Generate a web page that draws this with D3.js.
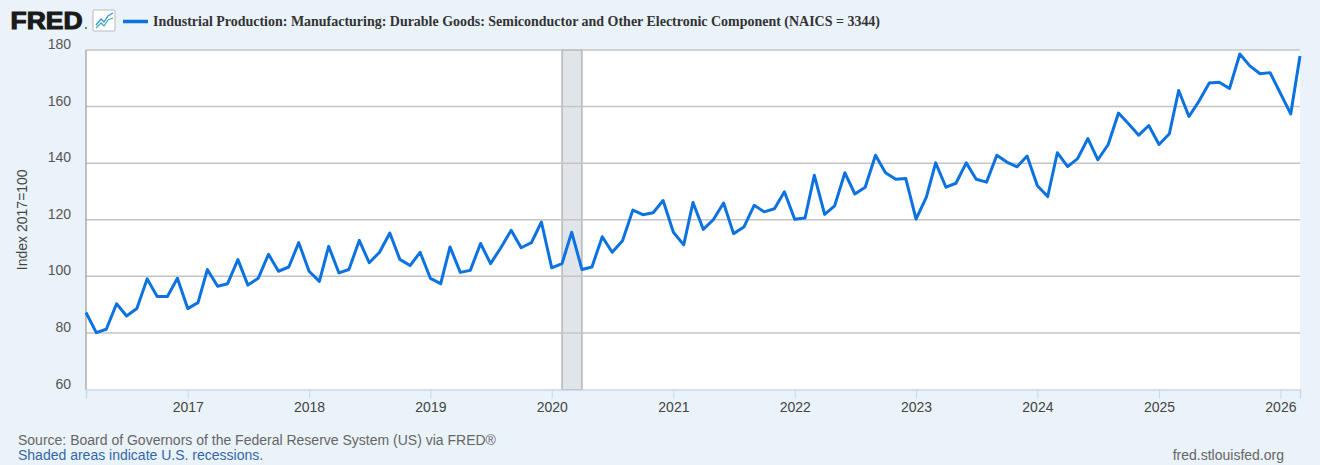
<!DOCTYPE html>
<html>
<head>
<meta charset="utf-8">
<script src="https://cdn.jsdelivr.net/npm/d3@7"></script>
<style>
  body { margin: 0; background: #eaf2fa; }
  svg { display: block; }
</style>
</head>
<body>
<div id="chart"></div>
<script>
// monthly values, Mar 2016 .. Mar 2026
var startMonth = "2016-03";
var values = [
  87.2, 80.1, 81.3, 90.3, 86.0, 88.6, 99.1, 92.9, 92.9, 99.3,
  88.6, 90.7, 102.4, 96.5, 97.4, 105.9, 96.9, 99.3, 107.8, 101.8, 103.3, 111.9,
  101.8, 98.2, 110.6, 101.2, 102.4, 112.7, 104.8, 108.5, 115.3, 106.0, 103.8, 108.5,
  99.3, 97.4, 110.4, 101.4, 102.1, 111.6, 104.5, 110.1, 116.3, 110.1, 111.9, 119.2,
  103.0, 104.5, 115.6, 102.4, 103.3, 114.0, 108.5, 112.6, 123.4, 121.8, 122.5, 126.8,
  115.6, 111.1, 126.1, 116.6, 120.0, 125.9, 115.1, 117.4, 125.1, 122.8, 123.9, 129.9,
  120.2, 120.6, 135.7, 121.9, 124.9, 136.6, 129.1, 131.5, 142.8, 136.6, 134.3, 134.6,
  120.2, 128.0, 140.1, 131.5, 132.9, 140.1, 134.3, 133.3, 142.8, 140.4, 138.7, 142.5,
  132.0, 128.2, 143.7, 138.8, 141.6, 148.7, 141.2, 146.6, 157.7, 153.9, 149.9, 153.3,
  146.6, 150.4, 165.7, 156.5, 161.9, 168.3, 168.6, 166.4, 178.6, 174.4, 171.6, 172.0,
  164.7, 157.4, 177.9
];
var yTicks = [60, 80, 100, 120, 140, 160, 180];
var xTickYears = [2017, 2018, 2019, 2020, 2021, 2022, 2023, 2024, 2025, 2026];
var recessions = [["2020-02-01", "2020-04-01"]];

var titleText = "Industrial Production: Manufacturing: Durable Goods: Semiconductor and Other Electronic Component (NAICS = 3344)";
var yLabel = "Index 2017=100";
var sourceText = "Source: Board of Governors of the Federal Reserve System (US) via FRED\u00ae";
var noteText = "Shaded areas indicate U.S. recessions.";
var siteText = "fred.stlouisfed.org";

var W = 1320, H = 465;
var margin = { top: 50, right: 20, bottom: 75.5, left: 86 };
var w = W - margin.left - margin.right,
    h = H - margin.top - margin.bottom;

var parseMonth = d3.timeParse("%Y-%m");
var t0 = parseMonth(startMonth);
var data = values.map(function(v, i) {
  return { date: d3.timeMonth.offset(t0, i), value: v };
});

var svg = d3.select("#chart").append("svg")
  .attr("width", W).attr("height", H);

svg.append("rect").attr("width", W).attr("height", H).attr("fill", "#eaf2fa");

var x = d3.scaleTime()
  .domain([data[0].date, data[data.length - 1].date])
  .range([margin.left, margin.left + w]);
var y = d3.scaleLinear()
  .domain([60, 180])
  .range([margin.top + h, margin.top]);

// plot background
svg.append("rect")
  .attr("x", margin.left).attr("y", margin.top)
  .attr("width", w).attr("height", h)
  .attr("fill", "#ffffff");

// recession bands
recessions.forEach(function(r) {
  var x0 = x(new Date(r[0])), x1 = x(new Date(r[1]));
  svg.append("rect")
    .attr("x", x0).attr("y", margin.top)
    .attr("width", x1 - x0).attr("height", h)
    .attr("fill", "#e1e5ea")
    .attr("stroke", "#9a9a9a").attr("stroke-width", 1);
});

// gridlines
svg.append("g")
  .selectAll("line")
  .data(yTicks.slice(1))
  .enter().append("line")
  .attr("x1", margin.left).attr("x2", margin.left + w)
  .attr("y1", function(d) { return y(d); })
  .attr("y2", function(d) { return y(d); })
  .attr("stroke", "#c4c4c4").attr("stroke-width", 1.5);

// y tick labels
svg.append("g")
  .selectAll("text")
  .data(yTicks)
  .enter().append("text")
  .attr("x", 71)
  .attr("y", function(d) { return y(d) - 1; })
  .attr("text-anchor", "end")
  .attr("font-family", "Liberation Sans, Arial, sans-serif")
  .attr("font-size", 14)
  .attr("fill", "#555")
  .text(function(d) { return d; });

// x axis
var xAxis = d3.axisBottom(x)
  .tickValues(xTickYears.map(function(yr) { return new Date(yr, 0, 1); }))
  .tickFormat(d3.timeFormat("%Y"))
  .tickSize(9)
  .tickPadding(4);
var gx = svg.append("g")
  .attr("transform", "translate(0," + (margin.top + h) + ")")
  .call(xAxis);
gx.select(".domain").attr("stroke", "#ccd6eb").attr("stroke-width", 1.5);
gx.selectAll(".tick line").attr("stroke", "#ccd6eb");
gx.selectAll(".tick text")
  .attr("font-family", "Liberation Sans, Arial, sans-serif")
  .attr("font-size", 14)
  .attr("fill", "#444");

// left axis line
svg.append("line")
  .attr("x1", margin.left).attr("x2", margin.left)
  .attr("y1", margin.top).attr("y2", margin.top + h)
  .attr("stroke", "#9a9a9a").attr("stroke-width", 1.2);

// series
var line = d3.line()
  .x(function(d) { return x(d.date); })
  .y(function(d) { return y(d.value); });
svg.append("path")
  .datum(data)
  .attr("fill", "none")
  .attr("stroke", "#0b72e0")
  .attr("stroke-width", 3)
  .attr("stroke-linejoin", "round")
  .attr("d", line);

// y label
svg.append("text")
  .attr("transform", "translate(27," + (margin.top + h / 2) + ")rotate(-90)")
  .attr("text-anchor", "middle")
  .attr("font-family", "Liberation Sans, Arial, sans-serif")
  .attr("font-size", 14)
  .attr("fill", "#444")
  .text(yLabel);

// header: logo, icon, legend
svg.append("text")
  .attr("x", 10.5).attr("y", 28.5)
  .attr("font-family", "Liberation Sans, Arial, sans-serif")
  .attr("font-weight", "bold")
  .attr("font-size", 24.5)
  .attr("textLength", 72).attr("lengthAdjust", "spacingAndGlyphs")
  .attr("fill", "#1a1a1a")
  .attr("stroke", "#1a1a1a").attr("stroke-width", 1.1)
  .text("FRED");
svg.append("circle").attr("cx", 86).attr("cy", 28).attr("r", 1).attr("fill", "#555");

var icon = svg.append("g").attr("transform", "translate(93,10)");
icon.append("rect").attr("width", 22).attr("height", 21)
  .attr("fill", "#fff").attr("stroke", "#bbb").attr("rx", 1);
icon.append("path").attr("d", "M3,15 L8,9 L11,12 L15,6 L20,3")
  .attr("fill", "none").attr("stroke", "#3a8ee6").attr("stroke-width", 1.3);
icon.append("path").attr("d", "M3,18 L8,13 L11,16 L15,10 L20,8")
  .attr("fill", "none").attr("stroke", "#3db39e").attr("stroke-width", 1.3);

svg.append("line")
  .attr("x1", 123).attr("x2", 148).attr("y1", 21.5).attr("y2", 21.5)
  .attr("stroke", "#0b72e0").attr("stroke-width", 3.5);
svg.append("text")
  .attr("x", 153).attr("y", 25.5)
  .attr("font-family", "Liberation Serif, Times New Roman, serif")
  .attr("font-weight", "bold")
  .attr("font-size", 14)
  .attr("textLength", 727).attr("lengthAdjust", "spacingAndGlyphs")
  .attr("fill", "#333")
  .text(titleText);

// footer
svg.append("text")
  .attr("x", 18).attr("y", 445)
  .attr("font-family", "Liberation Sans, Arial, sans-serif")
  .attr("font-size", 14)
  .attr("fill", "#666")
  .text(sourceText);
svg.append("text")
  .attr("x", 18).attr("y", 460)
  .attr("font-family", "Liberation Sans, Arial, sans-serif")
  .attr("font-size", 14)
  .attr("fill", "#3467a8")
  .text(noteText);
svg.append("text")
  .attr("x", 1284).attr("y", 460)
  .attr("text-anchor", "end")
  .attr("font-family", "Liberation Sans, Arial, sans-serif")
  .attr("font-size", 14)
  .attr("fill", "#666")
  .text(siteText);
</script>
</body>
</html>
